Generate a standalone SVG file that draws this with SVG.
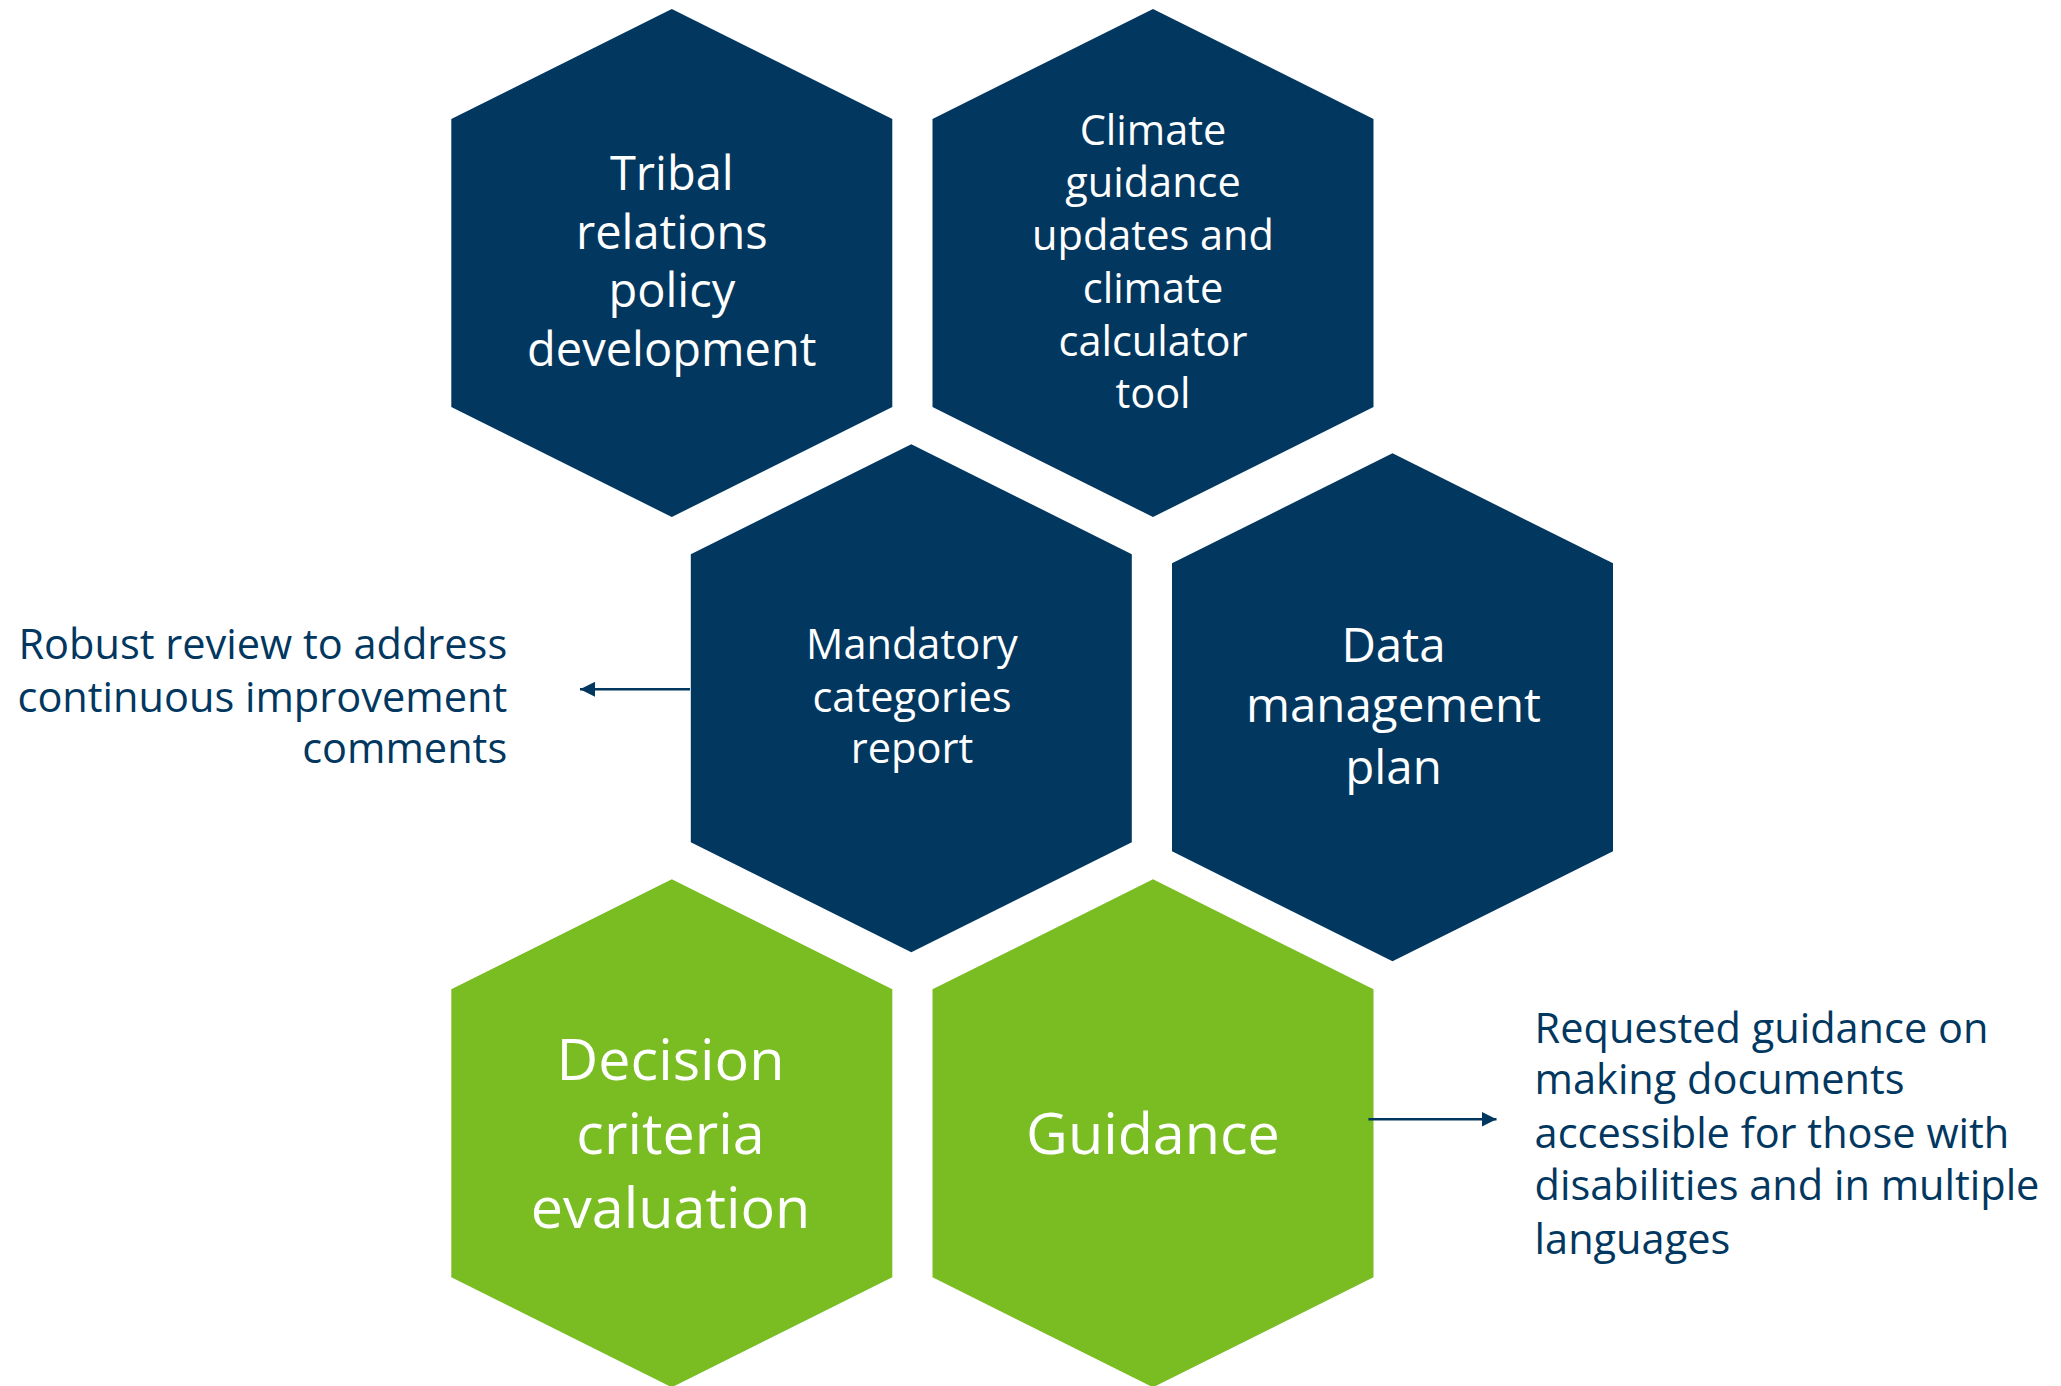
<svg xmlns="http://www.w3.org/2000/svg" xmlns:xlink="http://www.w3.org/1999/xlink" width="2061" height="1386" viewBox="0 0 2061 1386">
<style>
.navy{fill:#02375F}
.green{fill:#79BD22}
.t{font-family:"Open Sans","Noto Sans","Liberation Sans",sans-serif;fill:#ffffff;text-anchor:middle}
.n{font-family:"Open Sans","Noto Sans","Liberation Sans",sans-serif;fill:#02375F;font-size:41.5px}
.conn{stroke:#02375F;stroke-width:2.5;fill:none}
</style>
<defs>
<polygon id="hex" points="0,0 220.5,110 220.5,398 0,508 -220.5,398 -220.5,110"/>
<marker id="ah" viewBox="0 0 10 10" refX="10" refY="5" markerWidth="6" markerHeight="6" markerUnits="strokeWidth" orient="auto">
<path d="M0,0 L10,5 L0,10 z" fill="#02375F"/>
</marker>
</defs>
<rect width="2061" height="1386" fill="#ffffff"/>
<g id="node-tribal">
<use xlink:href="#hex" href="#hex" x="671.8" y="9" class="navy"/>
<text class="t" font-size="47"><tspan x="671.8" y="190.3">Tribal</tspan><tspan x="671.8" y="249.2">relations</tspan><tspan x="671.8" y="307">policy</tspan><tspan x="671.8" y="365.8">development</tspan></text>
</g>
<g id="node-climate">
<use xlink:href="#hex" href="#hex" x="1153" y="9" class="navy"/>
<text class="t" font-size="41.5"><tspan x="1153" y="145.4">Climate</tspan><tspan x="1153" y="197.1">guidance</tspan><tspan x="1153" y="250.2">updates and</tspan><tspan x="1153" y="302.6">climate</tspan><tspan x="1153" y="355.6">calculator</tspan><tspan x="1153" y="408.4">tool</tspan></text>
</g>
<g id="node-mandatory">
<use xlink:href="#hex" href="#hex" x="911.3" y="444.2" class="navy"/>
<text class="t" font-size="41.5"><tspan x="912" y="658.9">Mandatory</tspan><tspan x="912" y="711.6">categories</tspan><tspan x="912" y="763">report</tspan></text>
</g>
<g id="node-data">
<use xlink:href="#hex" href="#hex" x="1392.5" y="453.3" class="navy"/>
<text class="t" font-size="47.5"><tspan x="1393.5" y="661.6">Data</tspan><tspan x="1393.5" y="722.4">management</tspan><tspan x="1393.5" y="784.3">plan</tspan></text>
</g>
<g id="node-decision">
<use xlink:href="#hex" href="#hex" x="671.8" y="879.3" class="green"/>
<text class="t" font-size="57.5"><tspan x="670.5" y="1080.4">Decision</tspan><tspan x="670.5" y="1154.1">criteria</tspan><tspan x="670.5" y="1227.8">evaluation</tspan></text>
</g>
<g id="node-guidance">
<use xlink:href="#hex" href="#hex" x="1153" y="879.3" class="green"/>
<text class="t" font-size="57.5"><tspan x="1153" y="1154.1">Guidance</tspan></text>
</g>
<g id="label-robust">
<text class="n" text-anchor="end"><tspan x="507.2" y="658.9">Robust review to address</tspan><tspan x="507.2" y="711.6">continuous improvement</tspan><tspan x="507.2" y="763">comments</tspan></text>
</g>
<g id="label-requested">
<text class="n"><tspan x="1534.6" y="1042.6">Requested guidance on</tspan><tspan x="1534.6" y="1094.3">making documents</tspan><tspan x="1534.6" y="1147.7">accessible for those with</tspan><tspan x="1534.6" y="1200.1">disabilities and in multiple</tspan><tspan x="1534.6" y="1253.9">languages</tspan></text>
</g>
<g id="connectors">
<line class="conn" x1="690" y1="689.3" x2="580" y2="689.3" marker-end="url(#ah)"/>
<line class="conn" x1="1368.4" y1="1119.3" x2="1496.5" y2="1119.3" marker-end="url(#ah)"/>
</g>
</svg>
